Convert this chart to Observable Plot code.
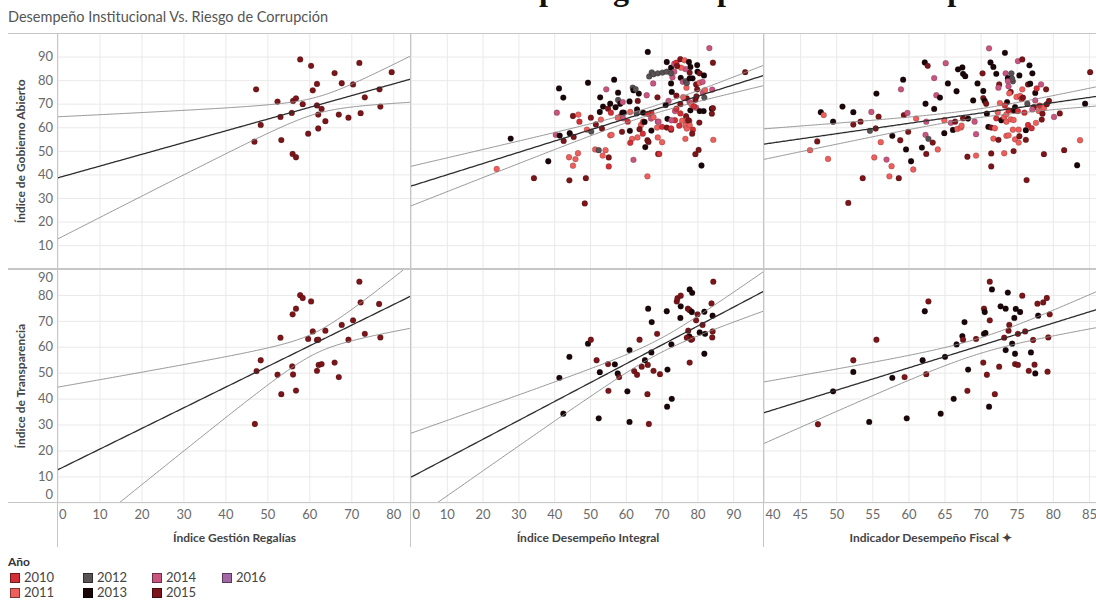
<!DOCTYPE html>
<html>
<head>
<meta charset="utf-8">
<script src="https://cdn.jsdelivr.net/npm/d3@7"></script>
<script src="https://cdn.jsdelivr.net/npm/@observablehq/plot@0.6"></script>
<style>
  body { margin: 0; background: #fff; }
  #root { position: relative; width: 1096px; height: 601px; overflow: hidden; font-family: Lato, "Open Sans", sans-serif; background: #fff; }
  .hline, .vline { position: absolute; background: #c6c6c6; }
  .lg { position: absolute; font-size: 13px; color: #444; white-space: nowrap; }
  .sw { position: absolute; width: 8px; height: 8px; border: 1px solid rgba(0,0,0,0.45); }
</style>
</head>
<body>
<div id="root"></div>
<script>
// ---- Data ---------------------------------------------------------------
const years = [2010, 2011, 2012, 2013, 2014, 2015, 2016];
const yearColors = ["#d42f34", "#ee5f5c", "#595254", "#1a0608", "#c8557f", "#7c1519", "#a267a6"];

const mainTitle = "Desempeño gestión pública vs. corrupción";
const subtitle = "Desempeño Institucional Vs. Riesgo de Corrupción";
const legendTitle = "Año";

const rowTitles = ["Índice de Gobierno Abierto", "Índice de Transparencia"];
const colTitles = ["Índice Gestión Regalías", "Índice Desempeño Integral", "Indicador Desempeño Fiscal ✦"];

const xTicksRegalias = [0, 10, 20, 30, 40, 50, 60, 70, 80];
const xTicksIntegral = [0, 10, 20, 30, 40, 50, 60, 70, 80, 90];
const xTicksFiscal = [40, 45, 50, 55, 60, 65, 70, 75, 80, 85];
const yTicksGobierno = [10, 20, 30, 40, 50, 60, 70, 80, 90];
const yTicksTransparencia = [0, 10, 20, 30, 40, 50, 60, 70, 80, 90];

// [x, y, year]
const regaliasGobierno = [
  [47.2,76.3,2015],[48.3,61.2,2015],[46.8,54.1,2015],[52.3,71.1,2015],[53.0,64.6,2015],[53.2,54.8,2015],
  [55.7,66.3,2015],[56.0,71.4,2015],[56.7,72.5,2015],[57.7,89.0,2015],[58.3,70.0,2015],[55.9,48.9,2015],
  [56.7,47.5,2015],[59.6,57.5,2015],[60.3,86.3,2015],[60.7,75.9,2015],[61.7,78.6,2015],[61.7,69.5,2015],
  [62.8,68.0,2015],[62.0,65.6,2015],[62.0,59.7,2015],[63.7,62.8,2015],[65.9,83.2,2015],[67.6,78.9,2015],
  [66.9,65.6,2015],[69.2,64.3,2015],[70.3,78.4,2015],[71.8,87.5,2015],[73.1,72.9,2015],[72.1,66.2,2015],
  [76.6,76.3,2015],[76.8,69.0,2015],[79.5,83.6,2015]
];

const integralGobierno = [
  [27.7,55.4,2013],[23.8,42.5,2011],[34.2,38.6,2015],[38.2,45.8,2013],[40.6,66.4,2014],[41.2,76.7,2013],
  [42.4,72.8,2013],[40.3,57.0,2014],[41.4,56.7,2013],[44.2,57.7,2013],[42.5,54.4,2015],[45.3,56.1,2015],
  [45.1,65.0,2015],[46.6,65.6,2011],[46.9,62.6,2010],[44.0,47.5,2011],[45.8,46.7,2011],[46.5,49.2,2011],
  [45.1,43.9,2011],[44.1,37.7,2015],[48.7,38.6,2015],[48.4,27.9,2015],[49.3,79.1,2013],[50.1,64.3,2015],
  [49.0,59.2,2011],[50.2,58.4,2012],[51.5,61.4,2015],[52.6,66.7,2013],[52.7,72.9,2013],[53.5,69.0,2013],
  [54.4,76.3,2014],[53.2,59.7,2015],[51.3,50.8,2011],[52.3,50.5,2012],[53.4,48.2,2011],[54.2,50.5,2011],
  [55.1,47.4,2015],[55.1,43.6,2010],[55.5,56.8,2011],[55.9,57.0,2011],[54.9,68.1,2015],[55.5,70.2,2013],
  [55.7,66.4,2010],[56.6,80.4,2013],[57.7,74.9,2013],[57.0,68.7,2013],[57.7,71.8,2012],[58.3,70.2,2013],
  [59.0,70.9,2014],[59.3,66.4,2013],[58.5,65.0,2010],[59.1,64.0,2014],[58.8,58.3,2015],[60.9,71.2,2013],
  [61.8,77.0,2012],[62.0,75.9,2013],[63.5,74.5,2013],[61.1,66.7,2011],[60.4,62.6,2010],[61.0,58.7,2013],
  [61.6,55.3,2011],[61.1,53.6,2010],[63.1,55.9,2011],[62.0,46.4,2014],[63.2,71.4,2015],[63.0,67.8,2013],
  [62.9,66.1,2012],[64.1,61.2,2011],[64.7,62.6,2010],[64.7,66.4,2013],[63.7,59.4,2015],[64.6,57.5,2010],
  [65.7,73.8,2014],[66.0,92.2,2013],[66.4,81.8,2012],[67.1,83.5,2012],[67.6,82.7,2012],[68.8,83.1,2012],
  [70.1,83.4,2012],[71.3,83.8,2012],[71.3,87.9,2013],[72.5,85.5,2013],[73.4,87.2,2014],[74.0,87.6,2010],
  [75.1,89.1,2015],[76.3,88.6,2011],[77.5,87.9,2013],[77.9,85.8,2013],[77.7,83.4,2015],[79.8,86.6,2013],
  [83.2,93.8,2014],[84.2,87.6,2015],[93.2,83.6,2015],[67.5,78.8,2014],[68.7,72.9,2015],[67.0,66.3,2010],
  [66.0,65.9,2010],[66.9,63.9,2014],[67.6,64.5,2011],[65.1,62.5,2013],[65.3,51.8,2013],[65.9,54.7,2015],
  [66.2,54.0,2015],[67.0,58.8,2013],[65.9,39.4,2011],[68.9,48.9,2015],[69.2,48.9,2010],[68.8,55.9,2011],
  [70.0,53.9,2011],[68.6,60.1,2011],[70.0,60.4,2010],[68.8,62.6,2014],[69.0,62.6,2014],[71.5,63.8,2013],
  [71.3,60.1,2015],[72.5,59.2,2015],[72.5,59.7,2010],[71.8,71.4,2014],[71.0,69.7,2013],[72.7,75.2,2013],
  [72.5,78.8,2013],[72.9,81.4,2014],[75.2,81.2,2013],[74.0,73.6,2015],[73.6,67.1,2014],[74.0,68.1,2010],
  [75.1,70.0,2015],[75.8,79.5,2014],[76.6,79.8,2012],[76.8,77.0,2011],[76.9,72.5,2015],[77.7,70.8,2014],
  [78.2,70.0,2011],[75.9,73.0,2011],[75.1,66.1,2010],[75.6,63.0,2011],[76.7,64.9,2015],[76.9,63.2,2011],
  [76.5,60.9,2011],[76.9,59.7,2011],[74.8,60.9,2010],[73.6,63.2,2010],[72.6,63.2,2014],[77.6,62.9,2010],
  [77.7,61.1,2011],[78.6,59.2,2010],[78.4,57.5,2015],[76.5,55.3,2011],[77.3,63.2,2015],[77.9,67.4,2013],
  [79.5,68.5,2014],[78.9,69.1,2010],[79.3,71.9,2015],[79.6,73.3,2015],[79.8,76.3,2015],[79.5,78.4,2015],
  [79.9,83.8,2013],[80.5,83.1,2015],[78.5,81.0,2013],[76.9,79.0,2012],[77.7,81.0,2013],[80.5,79.1,2011],
  [81.3,79.5,2014],[81.7,82.2,2013],[80.5,67.1,2013],[81.6,67.1,2013],[80.4,62.2,2015],[80.2,50.6,2015],
  [79.3,48.8,2015],[81.0,44.0,2013],[81.4,74.9,2014],[82.0,76.0,2011],[81.8,72.8,2012],[84.0,76.2,2014],
  [83.9,68.1,2013],[83.9,66.0,2015],[84.3,54.9,2011],[84.2,68.3,2015],[76.5,84.9,2014],[75.3,85.5,2011],
  [74.2,86.2,2015],[73.4,83.8,2014],[72.5,83.1,2012],[62.6,76.4,2012],[58.9,66.4,2013],[57.6,64.3,2011],
  [52.9,63.5,2011]
];

const fiscalGobierno = [
  [46.3,50.5,2011],[47.8,66.6,2013],[48.2,65.4,2011],[47.3,54.2,2015],[48.8,46.8,2011],[49.5,62.6,2013],
  [50.8,69.0,2013],[52.3,66.6,2013],[52.3,61.4,2015],[53.3,62.6,2015],[51.6,28.1,2015],[53.6,38.6,2015],
  [54.6,58.7,2012],[54.8,66.7,2014],[55.5,74.5,2013],[55.4,59.7,2015],[55.8,64.7,2015],[56.1,53.9,2011],
  [55.2,47.4,2011],[56.9,46.5,2014],[57.6,43.7,2011],[57.3,39.4,2011],[57.7,56.6,2013],[58.6,38.6,2015],
  [58.8,54.7,2015],[58.9,76.3,2014],[59.2,80.4,2013],[59.3,65.4,2015],[59.8,66.3,2014],[59.6,50.8,2013],
  [59.9,58.3,2015],[60.3,45.8,2013],[60.6,42.3,2011],[61.0,63.9,2011],[62.2,87.7,2013],[62.6,86.3,2015],
  [62.3,70.2,2013],[62.4,62.6,2014],[62.3,57.0,2014],[62.7,55.3,2012],[61.8,51.6,2013],[62.4,48.9,2015],
  [63.3,53.7,2015],[64.0,50.8,2011],[63.5,81.1,2014],[63.5,68.0,2013],[63.8,73.8,2014],[64.3,72.8,2013],
  [64.9,63.2,2011],[64.9,57.7,2013],[65.1,87.4,2014],[65.4,78.8,2013],[65.8,62.1,2014],[66.1,59.1,2013],
  [66.4,62.6,2015],[66.7,59.5,2011],[66.8,84.8,2013],[67.4,85.6,2013],[67.5,82.9,2013],[67.8,81.9,2013],
  [66.6,75.5,2013],[67.2,60.1,2011],[67.3,60.9,2011],[67.5,64.0,2015],[68.1,47.7,2015],[68.2,63.9,2013],
  [68.9,71.6,2013],[69.1,62.6,2014],[69.3,48.2,2011],[69.3,57.3,2014],[69.5,78.8,2013],[70.2,83.1,2015],
  [70.3,75.6,2013],[70.3,72.6,2015],[70.5,71.4,2013],[70.7,70.2,2015],[70.8,66.0,2013],[71.0,60.4,2013],
  [71.3,87.7,2013],[71.1,93.7,2014],[71.7,85.8,2013],[72.1,82.9,2013],[72.5,78.4,2015],[71.4,60.1,2015],
  [71.4,43.6,2015],[71.4,49.1,2015],[71.7,55.4,2011],[71.9,59.8,2011],[72.4,54.9,2015],[72.3,66.6,2011],
  [72.1,64.0,2010],[72.6,70.5,2011],[72.4,77.0,2014],[72.8,63.2,2013],[73.2,64.6,2011],[73.3,91.8,2013],
  [73.4,83.1,2014],[73.7,81.1,2013],[74.2,83.1,2012],[74.4,79.7,2012],[74.3,80.8,2012],[73.7,79.8,2014],
  [73.8,77.6,2014],[74.1,75.2,2015],[73.9,74.6,2011],[73.6,70.9,2013],[73.5,65.7,2011],[73.5,62.6,2011],
  [73.3,69.4,2010],[73.8,67.4,2010],[74.1,63.6,2011],[74.5,63.3,2011],[74.5,67.3,2015],[74.4,59.2,2011],
  [73.5,56.6,2011],[73.8,56.8,2011],[73.2,49.2,2011],[74.5,50.1,2015],[74.7,55.1,2011],[75.2,53.7,2011],
  [75.3,56.4,2015],[75.2,59.2,2011],[74.7,68.8,2013],[74.7,67.4,2013],[74.9,73.1,2011],[75.1,88.3,2014],
  [75.7,89.0,2015],[75.3,82.2,2013],[75.1,67.1,2010],[75.4,73.5,2011],[75.6,72.2,2010],[75.7,76.3,2011],
  [75.8,72.8,2015],[76.0,66.4,2010],[76.2,59.0,2013],[76.2,54.9,2015],[76.3,37.8,2015],[76.5,61.2,2010],
  [76.7,86.5,2013],[76.5,78.4,2015],[76.8,78.7,2013],[76.4,70.2,2012],[77.0,59.8,2010],[77.1,83.1,2013],
  [77.5,74.8,2013],[77.3,68.7,2015],[77.6,62.1,2011],[77.1,67.8,2014],[77.5,71.6,2014],[78.0,67.1,2011],
  [77.7,76.7,2010],[78.1,69.4,2010],[78.3,78.4,2014],[78.4,63.5,2015],[78.5,66.0,2015],[78.7,48.8,2015],
  [78.7,68.4,2011],[79.0,76.3,2015],[79.1,70.0,2015],[79.4,71.4,2015],[80.1,64.6,2014],[80.9,66.1,2015],
  [81.5,50.5,2015],[83.7,54.7,2011],[83.3,44.1,2013],[84.4,70.2,2013],[85.1,83.6,2015]
];

const regaliasTransparencia = [
  [46.9,30.4,2015],[47.3,50.8,2015],[48.3,55.0,2015],[52.3,49.4,2015],[53.0,63.7,2015],[53.2,41.9,2015],
  [55.8,52.6,2015],[56.0,49.5,2015],[55.9,72.7,2015],[56.7,74.9,2015],[56.7,43.3,2015],[57.7,80.1,2015],
  [58.3,79.0,2015],[59.6,63.2,2015],[60.3,77.7,2015],[60.7,66.1,2015],[61.7,62.8,2015],[62.0,62.9,2015],
  [61.7,50.9,2015],[62.1,53.2,2015],[62.8,53.5,2015],[63.7,66.4,2015],[65.9,54.1,2015],[66.9,48.5,2015],
  [67.6,68.6,2015],[69.2,62.9,2015],[70.3,70.4,2015],[71.8,85.3,2015],[72.1,77.3,2015],[73.1,65.2,2015],
  [76.5,76.7,2015],[76.8,63.8,2015]
];

const integralTransparencia = [
  [41.3,48.2,2013],[42.4,34.4,2013],[44.1,56.3,2013],[49.3,61.4,2013],[50.1,62.9,2015],[51.7,55.0,2015],
  [52.6,50.4,2013],[52.3,32.6,2013],[54.9,53.5,2015],[55.0,43.2,2015],[56.8,53.4,2013],[57.6,49.9,2013],
  [58.0,48.5,2015],[60.3,43.0,2013],[60.9,58.9,2013],[60.9,31.2,2013],[62.2,50.8,2015],[63.0,49.4,2015],
  [63.7,62.9,2015],[64.3,52.5,2015],[65.2,55.0,2013],[66.0,53.2,2015],[65.9,41.9,2015],[66.3,30.4,2015],
  [66.1,74.9,2013],[67.1,69.7,2013],[67.0,58.0,2013],[67.6,50.9,2015],[68.6,65.2,2015],[69.4,49.6,2015],
  [71.3,73.9,2013],[71.5,51.4,2013],[71.4,37.1,2013],[72.6,61.1,2013],[72.7,40.1,2013],[74.1,77.7,2015],
  [74.3,78.9,2015],[75.2,79.9,2015],[75.2,75.8,2013],[75.1,71.3,2013],[77.2,74.9,2015],[77.7,74.3,2015],
  [78.3,73.6,2013],[77.7,82.3,2013],[78.4,81.0,2013],[77.3,66.4,2015],[77.6,64.2,2013],[76.9,63.7,2015],
  [78.1,62.9,2015],[78.4,63.2,2015],[77.7,54.1,2015],[79.5,70.4,2015],[79.9,72.7,2015],[80.5,65.7,2013],
  [81.3,68.6,2015],[81.8,73.7,2013],[82.0,65.2,2013],[81.8,57.5,2013],[83.8,76.9,2015],[84.1,72.2,2013],
  [84.1,66.1,2015],[84.0,63.8,2015],[84.3,85.3,2015]
];

const fiscalTransparencia = [
  [47.4,30.3,2015],[49.5,43.0,2013],[52.3,55.0,2015],[52.3,50.5,2013],[54.5,31.2,2013],[55.5,62.9,2015],
  [57.7,48.2,2013],[59.4,48.5,2015],[59.7,32.6,2013],[61.9,55.0,2013],[62.2,73.9,2013],[62.7,77.7,2015],
  [62.4,49.6,2015],[64.4,34.4,2013],[65.0,56.3,2013],[66.2,40.1,2013],[66.6,61.1,2013],[67.4,64.3,2013],
  [67.5,62.9,2015],[67.7,69.7,2013],[68.2,51.4,2013],[68.1,43.2,2015],[69.3,63.2,2015],[70.3,54.1,2015],
  [70.4,65.2,2013],[70.6,65.5,2013],[70.4,74.9,2015],[70.5,73.6,2013],[70.8,49.4,2015],[71.1,37.1,2013],
  [71.2,85.3,2015],[71.5,82.3,2013],[71.2,70.4,2015],[71.9,41.9,2015],[72.5,52.5,2015],[72.7,75.8,2013],
  [73.4,74.9,2013],[73.2,63.7,2015],[73.4,58.9,2013],[73.7,81.1,2013],[73.8,66.4,2015],[73.9,68.6,2015],
  [74.3,61.4,2013],[74.6,71.3,2013],[74.7,57.5,2013],[74.8,74.8,2013],[74.7,53.5,2015],[75.1,53.2,2015],
  [75.1,65.2,2015],[75.4,73.6,2013],[75.7,79.9,2015],[76.1,66.1,2015],[76.6,50.9,2015],[76.9,58.0,2013],
  [77.2,62.8,2015],[77.4,53.3,2015],[77.5,49.9,2013],[77.8,76.8,2015],[77.9,72.2,2013],[78.6,77.3,2015],
  [79.1,79.0,2015],[79.2,50.6,2015],[79.3,63.8,2015],[79.5,72.7,2015]
];

// ---- Layout -------------------------------------------------------------
const root = document.getElementById("root");
const frameLeft = 57.5;
const colLeft = [57.5, 410.5, 763.5];
const colWidth = [353, 353, 332.5];
const rowTop = [33, 268.7];
const rowHeight = [235.7, 233.3];
const axisBand = 52;

const xDomains = [[0, 84.1], [0, 98.6], [40, 86.05]];
const yDomains = [[0, 100], [0, 90]];
const xTickSets = [xTicksRegalias, xTicksIntegral, xTicksFiscal];
const yTickSets = [yTicksGobierno, yTicksTransparencia];
const panels = [
  [regaliasGobierno, integralGobierno, fiscalGobierno],
  [regaliasTransparencia, integralTransparencia, fiscalTransparencia]
];

// Student t critical value (two-sided 95%) via Cornish–Fisher expansion
function tCrit(df) {
  const z = 1.959964;
  return z + (z ** 3 + z) / (4 * df) + (5 * z ** 5 + 16 * z ** 3 + 3 * z) / (96 * df * df)
    + (3 * z ** 7 + 19 * z ** 5 + 17 * z ** 3 - 15 * z) / (384 * df ** 3);
}

// Least-squares trend with 95% confidence band of the mean, across the whole axis
function trend(pts, [x0, x1]) {
  const n = pts.length;
  const mx = d3.mean(pts, d => d[0]), my = d3.mean(pts, d => d[1]);
  const sxx = d3.sum(pts, d => (d[0] - mx) ** 2);
  const b = d3.sum(pts, d => (d[0] - mx) * (d[1] - my)) / sxx;
  const a = my - b * mx;
  const s = Math.sqrt(d3.sum(pts, d => (d[1] - a - b * d[0]) ** 2) / (n - 2));
  const t = tCrit(n - 2);
  const xs = d3.range(x0, x1, (x1 - x0) / 240).concat([x1]);
  return xs.map(x => {
    const f = a + b * x;
    const h = t * s * Math.sqrt(1 / n + (x - mx) ** 2 / sxx);
    return {x, f, lo: f - h, hi: f + h};
  });
}

function addLine(cls, left, top, w, h) {
  const el = document.createElement("div");
  el.className = cls;
  Object.assign(el.style, {left: left + "px", top: top + "px", width: w + "px", height: h + "px"});
  root.appendChild(el);
}

function makePanel(r, c) {
  const pts = panels[r][c];
  const xDomain = xDomains[c], yDomain = yDomains[r];
  const xTicks = xTickSets[c], yTicks = yTickSets[r];
  const ml = c === 0 ? frameLeft : 0;
  const mb = r === 1 ? axisBand : 0;
  const fit = trend(pts, xDomain);
  const tickText = {fontSize: 13, color: "#6a6a6a", label: null, tickSize: 0};

  const marks = [
    Plot.gridX(xTicks, {stroke: "#e9e9e9", strokeOpacity: 1, strokeWidth: 1}),
    Plot.gridY(yTicks, {stroke: "#e9e9e9", strokeOpacity: 1, strokeWidth: 1}),
    Plot.dot(pts, {x: d => d[0], y: d => d[1], r: 2.9, fill: d => d[2], fillOpacity: 1,
      stroke: "#000", strokeOpacity: 0.3, strokeWidth: 0.6}),
    Plot.line(fit, {x: "x", y: "hi", stroke: "#8a8a8a", strokeWidth: 0.9, clip: true}),
    Plot.line(fit, {x: "x", y: "lo", stroke: "#8a8a8a", strokeWidth: 0.9, clip: true}),
    Plot.line(fit, {x: "x", y: "f", stroke: "#2e2e2e", strokeWidth: 1.3, clip: true})
  ];

  if (c === 0) {
    const lo = yDomain[0], hi = yDomain[1];
    marks.push(
      Plot.axisY(yTicks.filter(v => v !== lo && v !== hi), {...tickText, anchor: "left", tickPadding: 5}),
      Plot.axisY(yTicks.filter(v => v === lo), {...tickText, anchor: "left", tickPadding: 5, dy: -8}),
      Plot.axisY(yTicks.filter(v => v === hi), {...tickText, anchor: "left", tickPadding: 5, dy: 8}),
      Plot.text([rowTitles[r]], {text: d => d, frameAnchor: "left", textAnchor: "middle", lineAnchor: "middle",
        dx: -36.5, rotate: -90, fontSize: 12, fontWeight: "bold", fill: "#444"})
    );
  }
  if (r === 1) {
    const first = xDomain[0];
    marks.push(
      Plot.axisX(xTicks.filter(v => v !== first), {...tickText, anchor: "bottom", tickPadding: 7}),
      Plot.axisX(xTicks.filter(v => v === first), {...tickText, anchor: "bottom", tickPadding: 7,
        textAnchor: "start", dx: 1}),
      Plot.text([colTitles[c]], {text: d => d, frameAnchor: "bottom", textAnchor: "middle", lineAnchor: "middle",
        dy: 35, fontSize: 12, fontWeight: "bold", fill: "#444"})
    );
  }

  const svg = Plot.plot({
    width: ml + colWidth[c],
    height: rowHeight[r] + mb,
    marginLeft: ml, marginRight: 0, marginTop: 0, marginBottom: mb,
    x: {domain: xDomain, axis: null},
    y: {domain: yDomain, axis: null},
    color: {domain: years, range: yearColors},
    style: {background: "transparent", fontFamily: "Lato, 'Open Sans', sans-serif", overflow: "visible"},
    marks
  });
  Object.assign(svg.style, {position: "absolute", left: (colLeft[c] - ml) + "px", top: rowTop[r] + "px"});
  root.appendChild(svg);
}

// Large heading sits above the visible area; only its descenders reach into view
const ns = "http://www.w3.org/2000/svg";
const headSvg = document.createElementNS(ns, "svg");
headSvg.setAttribute("width", 1096);
headSvg.setAttribute("height", 9);
Object.assign(headSvg.style, {position: "absolute", left: "0px", top: "0px", overflow: "hidden"});
const headText = document.createElementNS(ns, "text");
headText.setAttribute("x", 0);
headText.setAttribute("y", 0);
headText.setAttribute("font-family", "'Liberation Serif', 'DejaVu Serif', serif");
headText.setAttribute("font-weight", "bold");
headText.setAttribute("font-size", 32);
headText.setAttribute("fill", "#111");
headText.textContent = mainTitle;
headSvg.appendChild(headText);
root.appendChild(headSvg);
// shift the heading so the "p" of its first word sits at x = 548
{
  const k = mainTitle.indexOf("p");
  const before = headText.getSubStringLength(0, k);
  const pw = headText.getSubStringLength(k, 1);
  headText.setAttribute("x", 548 - before - pw / 2);
}

const sub = document.createElement("div");
sub.textContent = subtitle;
Object.assign(sub.style, {position: "absolute", left: "8px", top: "7.5px", fontSize: "14.5px", color: "#555", whiteSpace: "nowrap"});
root.appendChild(sub);

for (let r = 0; r < 2; r++) for (let c = 0; c < 3; c++) makePanel(r, c);

// Pane borders
addLine("hline", 8, 32.5, 1088, 1.5);
addLine("hline", 8, 268, 1088, 1.5);
addLine("hline", 8, 501.5, 1088, 1.2);
for (const x of colLeft) addLine("vline", x - 0.5, 33, 1, 514);

// Colour legend
const lgTitle = document.createElement("div");
lgTitle.className = "lg";
lgTitle.textContent = legendTitle;
Object.assign(lgTitle.style, {left: "8px", top: "554px", fontWeight: "bold", fontSize: "12px", color: "#333"});
root.appendChild(lgTitle);
const lgCols = [10, 83, 152, 222];
const lgRows = [578, 593];
years.forEach((yr, i) => {
  const cx = lgCols[Math.floor(i / 2)], cy = lgRows[i % 2];
  const sw = document.createElement("div");
  sw.className = "sw";
  Object.assign(sw.style, {left: cx + "px", top: (cy - 5) + "px", background: yearColors[i]});
  root.appendChild(sw);
  const lab = document.createElement("div");
  lab.className = "lg";
  lab.textContent = yr;
  Object.assign(lab.style, {left: (cx + 14) + "px", top: (cy - 9) + "px"});
  root.appendChild(lab);
});
</script>
</body>
</html>
